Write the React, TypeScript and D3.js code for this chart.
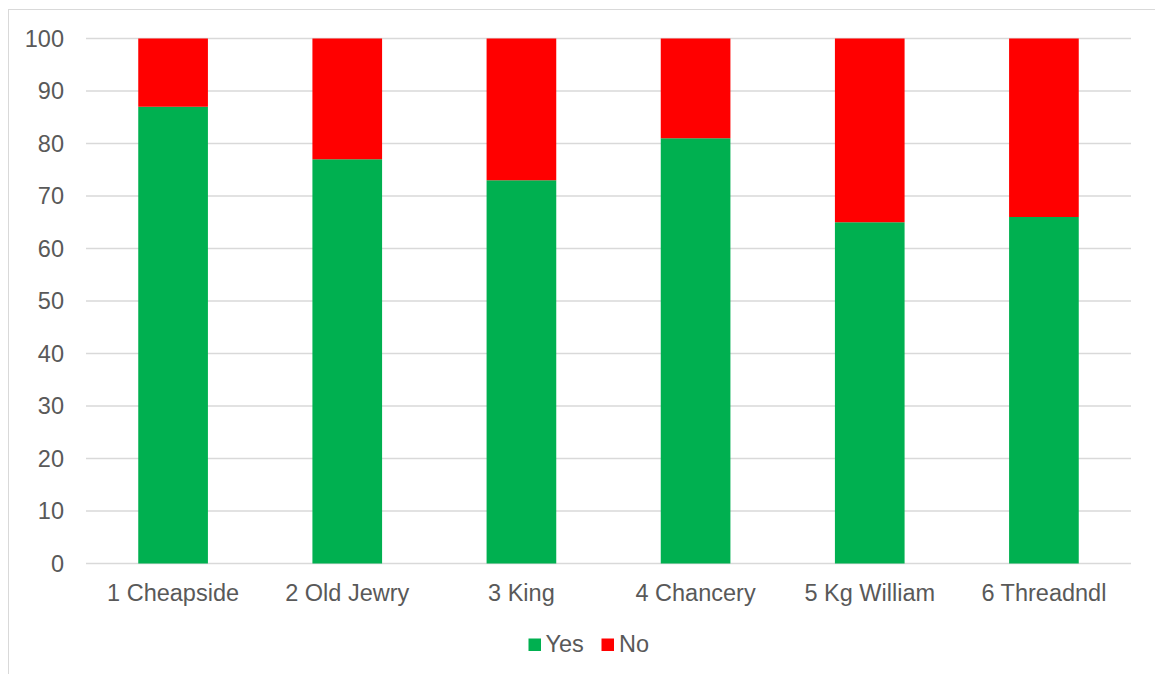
import React from "react";
import * as d3 from "d3";

const categories = ["1 Cheapside", "2 Old Jewry", "3 King", "4 Chancery", "5 Kg William", "6 Threadndl"];
const yesValues = [87, 77, 73, 81, 65, 66];
const noValues = [13, 23, 27, 19, 35, 34];
const yTicks = [0, 10, 20, 30, 40, 50, 60, 70, 80, 90, 100];
const seriesNames = ["Yes", "No"];
const seriesColors = ["#00B050", "#FF0000"];

export default function App() {
  const W = 1155, H = 674;
  const left = 86, right = 1131, top = 38.5, bottom = 563.5;
  const x = d3.scaleBand<string>().domain(categories).range([left, right]).paddingInner(0.6).paddingOuter(0.3);
  const y = d3.scaleLinear().domain([0, 100]).range([bottom, top]);
  const rows = categories.map((c, i) => ({ cat: c, Yes: yesValues[i], No: noValues[i] }));
  const stacked = d3.stack<any>().keys(seriesNames)(rows);
  const font = "'Liberation Sans', Arial, sans-serif";
  return (
    <svg width={W} height={H} style={{ position: "absolute", left: 0, top: 0 }}>
      <rect x={0} y={0} width={W} height={H} fill="#fff" />
      <rect x={8.5} y={9.5} width={W + 10} height={H + 10} fill="#fff" stroke="#D9D9D9" strokeWidth={1} />
      {yTicks.map((t) => (
        <g key={t}>
          <line x1={left} x2={right} y1={y(t)} y2={y(t)} stroke="#D9D9D9" strokeWidth={1.5} />
          <text x={64} y={y(t)} dy="0.35em" textAnchor="end" fontFamily={font} fontSize={23.5} fill="#595959">{t}</text>
        </g>
      ))}
      {stacked.map((s, si) => (
        <g key={s.key}>
          {s.map((d, i) => (
            <rect key={i} x={x(categories[i])} width={x.bandwidth()} y={y(d[1])} height={y(d[0]) - y(d[1])} fill={seriesColors[si]} />
          ))}
        </g>
      ))}
      {categories.map((c) => (
        <text key={c} x={(x(c) as number) + x.bandwidth() / 2} y={601} textAnchor="middle" fontFamily={font} fontSize={23.5} fill="#595959">{c}</text>
      ))}
      <g>
        <rect x={528.5} y={638.5} width={12.5} height={12.5} fill={seriesColors[0]} />
        <text x={545.5} y={651.5} fontFamily={font} fontSize={23.5} fill="#595959">{seriesNames[0]}</text>
        <rect x={601.5} y={638.5} width={12.5} height={12.5} fill={seriesColors[1]} />
        <text x={619} y={651.5} fontFamily={font} fontSize={23.5} fill="#595959">{seriesNames[1]}</text>
      </g>
    </svg>
  );
}
